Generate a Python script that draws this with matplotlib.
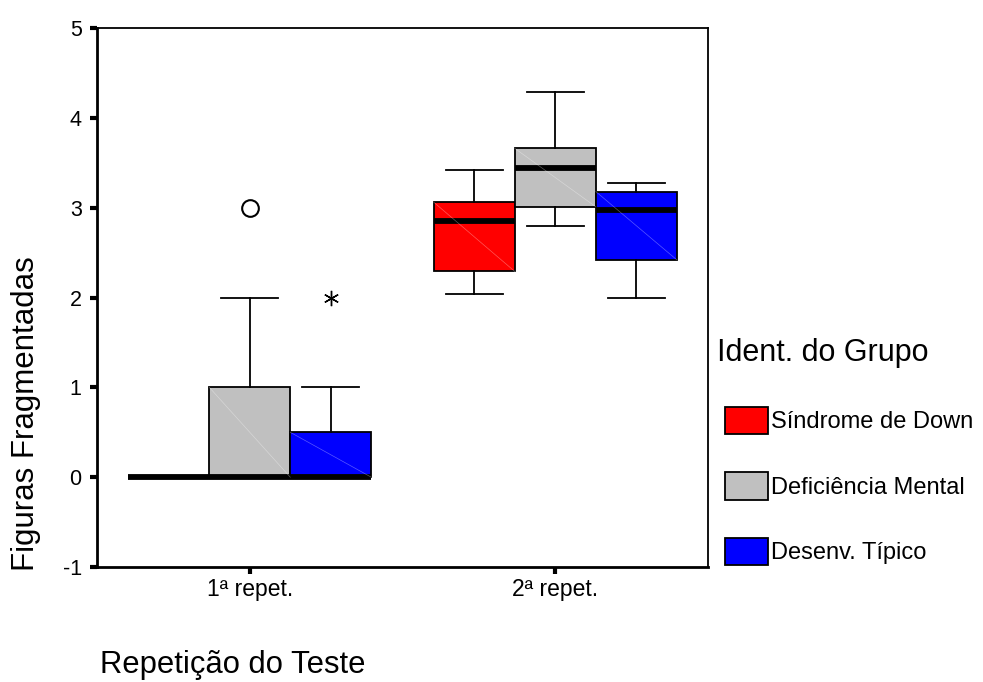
import matplotlib
matplotlib.use("Agg")
import matplotlib.pyplot as plt
from matplotlib.patches import Patch

plt.rcParams['font.family'] = ['Liberation Sans', 'DejaVu Sans']
plt.rcParams['axes.unicode_minus'] = False

# data
repeticoes = ['1ª repet.', '2ª repet.']
grupos = ['Síndrome de Down', 'Deficiência Mental', 'Desenv. Típico']
cores = ['#ff0000', '#c0c0c0', '#0000ff']

# [whislo, q1, med, q3, whishi] per group, per repetition
sd_stats = [[0, 0, 0, 0, 0], [2.04, 2.29, 2.85, 3.06, 3.42]]
dm_stats = [[0, 0, 0, 1, 2], [2.80, 3.01, 3.44, 3.66, 4.29]]
dt_stats = [[0, 0, 0, 0.5, 1], [2.00, 2.42, 2.97, 3.18, 3.28]]
# outliers (circle) and extremes (asterisk): (repetition index, group index, value)
outliers = [(0, 1, 3.0)]
extremes = [(0, 2, 2.0)]

all_stats = [sd_stats, dm_stats, dt_stats]
centers = [0.5, 1.5]
w = 0.265

fig = plt.figure(figsize=(9.83, 6.82), dpi=100)
ax = fig.add_axes([0.0987, 0.1686, 0.6216, 0.7903])

for g, (stats_g, cor) in enumerate(zip(all_stats, cores)):
    stats = []
    pos = []
    for r, s in enumerate(stats_g):
        stats.append(dict(whislo=s[0], q1=s[1], med=s[2], q3=s[3], whishi=s[4], fliers=[]))
        pos.append(centers[r] + (g - 1) * w)
    ax.bxp(stats, positions=pos, widths=w, capwidths=w * 0.7, patch_artist=True,
           showfliers=False, manage_ticks=False,
           boxprops=dict(facecolor=cor, edgecolor='black', linewidth=1.3),
           medianprops=dict(color='black', linewidth=4.2, solid_capstyle='butt'),
           whiskerprops=dict(color='black', linewidth=1.3),
           capprops=dict(color='black', linewidth=1.3))
    # faint diagonal inside each box
    for p, s in zip(pos, stats_g):
        if s[3] > s[1]:
            ax.plot([p - w / 2, p + w / 2], [s[3], s[1]], color='white', lw=0.5,
                    alpha=0.35, zorder=3)

for r, g, v in outliers:
    ax.plot(centers[r] + (g - 1) * w, v, marker='o', ms=12, mfc='white',
            mec='black', mew=1.5, ls='none', zorder=4)
for r, g, v in extremes:
    ax.plot(centers[r] + (g - 1) * w, v, marker=(6, 2, 0), ms=11,
            color='black', mew=1.0, ls='none', zorder=4)

ax.set_xlim(0, 2)
ax.set_ylim(-1, 5)
ax.set_xticks(centers)
ax.set_xticklabels(repeticoes, fontsize=16.5)
ax.set_yticks(range(-1, 6))
ax.tick_params(axis='y', labelsize=15.5, length=5, width=3, direction='out', pad=6)
ax.tick_params(axis='x', length=5, width=3, direction='out', pad=3)
for sp in ax.spines.values():
    sp.set_linewidth(1.3)
ax.spines['left'].set_linewidth(2)
ax.spines['bottom'].set_linewidth(2)

fig.text(0.026, 1 - 414 / 682, 'Figuras Fragmentadas', rotation=90, fontsize=22.5,
         ha='center', va='center')
fig.text(100 / 983, 1 - 673 / 682, 'Repetição do Teste', fontsize=22.3,
         ha='left', va='baseline')

handles = [Patch(facecolor=c, edgecolor='black', linewidth=1.3) for c in cores]
leg = fig.legend(handles, grupos, loc='upper left', bbox_to_anchor=(717 / 983, 1 - 338 / 682),
                 frameon=False, fontsize=17, title='Ident. do Grupo',
                 title_fontsize=22, alignment='left', handlelength=1.82,
                 handleheight=1.4, labelspacing=1.62, handletextpad=0.45,
                 borderpad=0, borderaxespad=0)
leg._legend_box.sep = 28
leg._legend_handle_box.align = 'left'
leg._legend_handle_box.sep = 0
for h in leg.legend_handles:
    h.set_x(h.get_x() + 6)

fig.savefig('out.png', dpi=100)
